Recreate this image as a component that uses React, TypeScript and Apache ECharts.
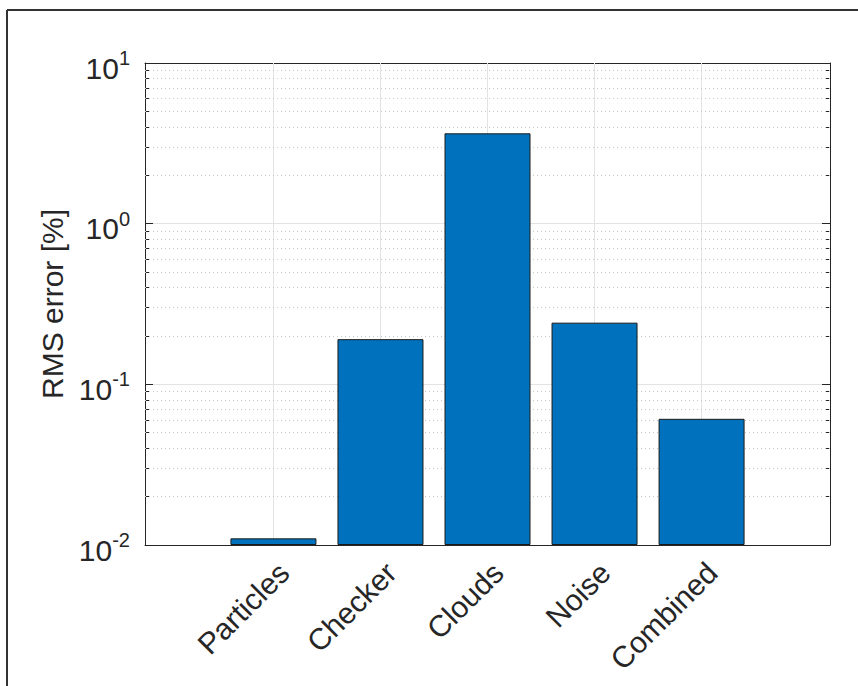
import React, { useEffect, useRef } from "react";
import * as echarts from "echarts";

const categories = ["Particles", "Checker", "Clouds", "Noise", "Combined"];
const rmsError = [0.011, 0.191, 3.65, 0.242, 0.061];
const yMin = 0.01;
const yMax = 10;
const decades = [0.01, 0.1, 1];
const minorMultipliers = [2, 3, 4, 5, 6, 7, 8, 9];
const minorValues = decades.flatMap((d) => minorMultipliers.map((m) => +(d * m).toPrecision(3)));
const minorLogValues = minorValues.map((v) => Math.log10(v));
const categoryIndex = categories.map((_, i) => i);

const FONT = "Liberation Sans, Arial, Helvetica, sans-serif";
const TXT = "#262626";
const GRID = "#e3e3e3";

export default function App() {
  const ref = useRef<HTMLDivElement>(null);
  useEffect(() => {
    if (!ref.current) return;
    const chart = echarts.init(ref.current, null, { renderer: "svg" });
    const xCommon = {
      type: "value",
      min: -1.2,
      max: 5.2,
      axisLine: { show: true, onZero: false, lineStyle: { color: TXT, width: 1 } },
      splitLine: { show: false },
    };
    const yMinorCommon = {
      type: "value",
      min: -2,
      max: 1,
      axisLine: { show: false, onZero: false },
      axisLabel: { show: false },
      splitLine: { show: false },
      axisTick: { show: true, inside: true, length: 4, customValues: minorLogValues, lineStyle: { color: TXT } },
    };
    chart.setOption({
      animation: false,
      backgroundColor: "#fff",
      textStyle: { fontFamily: FONT },
      graphic: [
        { type: "line", shape: { x1: 7, y1: 10, x2: 858, y2: 10 }, style: { stroke: "#333", lineWidth: 2 } },
        { type: "line", shape: { x1: 7, y1: 10, x2: 7, y2: 686 }, style: { stroke: "#333", lineWidth: 2 } },
      ],
      grid: { left: 145, top: 63, width: 685, height: 482, containLabel: false },
      xAxis: [
        {
          ...xCommon,
          position: "bottom",
          axisTick: { show: true, inside: true, length: 7, customValues: categoryIndex, lineStyle: { color: TXT } },
          axisLabel: {
            show: true,
            customValues: categoryIndex,
            rotate: 45,
            margin: 12,
            fontSize: 30,
            color: TXT,
            fontFamily: FONT,
            verticalAlign: "top",
            formatter: (v: number) => categories[Math.round(v)] ?? "",
          },
        },
        {
          ...xCommon,
          position: "top",
          axisTick: { show: true, inside: true, length: 7, customValues: categoryIndex, lineStyle: { color: TXT } },
          axisLabel: { show: false },
        },
      ],
      yAxis: [
        {
          type: "log",
          logBase: 10,
          min: yMin,
          max: yMax,
          startValue: yMin,
          position: "left",
          name: "RMS error [%]",
          nameLocation: "middle",
          nameGap: 76,
          nameTextStyle: { fontSize: 30, color: TXT, fontFamily: FONT },
          axisLine: { show: true, onZero: false, lineStyle: { color: TXT, width: 1 } },
          axisTick: { show: true, inside: true, length: 8, lineStyle: { color: TXT } },
          splitLine: { show: true, lineStyle: { color: GRID, width: 1, type: "solid" } },
          axisLabel: {
            show: true,
            margin: 15,
            color: TXT,
            fontFamily: FONT,
            formatter: (v: number) => `{b|10}{s|${Math.round(Math.log10(v))}}`,
            rich: {
              b: { fontSize: 30, lineHeight: 30, padding: [10, 0, 0, 0], color: TXT, fontFamily: FONT },
              s: { fontSize: 20, lineHeight: 20, verticalAlign: "top", color: TXT, fontFamily: FONT },
            },
          },
        },
        {
          type: "log",
          logBase: 10,
          min: yMin,
          max: yMax,
          position: "right",
          axisLine: { show: true, onZero: false, lineStyle: { color: TXT, width: 1 } },
          axisTick: { show: true, inside: true, length: 8, lineStyle: { color: TXT } },
          splitLine: { show: false },
          axisLabel: { show: false },
        },
        { ...yMinorCommon, position: "left" },
        { ...yMinorCommon, position: "right" },
      ],
      series: [
        {
          type: "line",
          data: [],
          xAxisIndex: 0,
          yAxisIndex: 0,
          z: 1,
          silent: true,
          markLine: {
            silent: true,
            symbol: "none",
            z: 1,
            animation: false,
            label: { show: false },
            data: [
              ...categoryIndex.map((i) => ({ xAxis: i, lineStyle: { color: GRID, width: 1, type: "solid" } })),
              ...minorValues.map((v) => ({ yAxis: v, lineStyle: { color: "#c9c9c9", width: 1, type: [1, 3] } })),
            ],
          },
        },
        {
          type: "bar",
          xAxisIndex: 0,
          yAxisIndex: 0,
          z: 3,
          barWidth: 86,
          data: categories.map((_, i) => [i, rmsError[i]]),
          itemStyle: { color: "#0072BD", borderColor: "#1a1a1a", borderWidth: 1 },
        },
      ],
    });
    return () => chart.dispose();
  }, []);
  return <div ref={ref} style={{ position: "fixed", left: 0, top: 0, width: 858, height: 686 }} />;
}
